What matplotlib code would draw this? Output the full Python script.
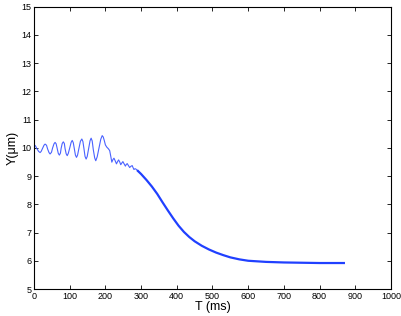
import matplotlib
matplotlib.use('Agg')
import matplotlib.pyplot as plt

# oscillating part (several points per cycle)
t_osc = [0, 4, 8, 13, 17, 20, 24, 28, 31, 35, 38, 42, 45, 49, 52, 56, 59, 62, 65,
         68, 71, 74, 76, 79, 82, 85, 87, 90, 93, 96, 100, 104, 107, 110, 113, 116,
         119, 122, 126, 130, 134, 137, 140, 143, 146, 149, 153, 157, 160, 163, 166,
         170, 173, 177, 182, 187, 191, 194, 197, 200, 204, 208, 212, 215, 218, 221,
         224, 227, 231, 234, 237, 240, 243, 246, 249, 252, 256, 258, 261, 264, 268,
         271, 275, 277, 280, 283, 286, 291]
y_osc = [10.10, 10.07, 9.97, 9.87, 9.83, 9.87, 9.98, 10.09, 10.13, 10.09, 9.96,
         9.83, 9.78, 9.84, 9.99, 10.14, 10.19, 10.14, 9.97, 9.80, 9.74, 9.81, 9.98,
         10.15, 10.21, 10.15, 9.97, 9.79, 9.72, 9.80, 9.99, 10.19, 10.26, 10.18,
         9.96, 9.74, 9.66, 9.74, 9.99, 10.23, 10.31, 10.22, 9.96, 9.69, 9.60, 9.69,
         9.97, 10.25, 10.34, 10.24, 9.94, 9.64, 9.54, 9.68, 9.99, 10.30, 10.43,
         10.38, 10.25, 10.10, 10.02, 9.97, 9.90, 9.70, 9.49, 9.58, 9.63, 9.55, 9.43,
         9.51, 9.57, 9.50, 9.40, 9.46, 9.51, 9.44, 9.35, 9.40, 9.44, 9.38, 9.30,
         9.34, 9.37, 9.31, 9.23, 9.26, 9.24, 9.18]

# smooth decay
t_dec = [291, 300, 315, 330, 345, 360, 375, 390, 405, 420, 435, 450, 470, 490,
         510, 530, 550, 575, 600, 650, 700, 750, 800, 868]
y_dec = [9.18, 9.07, 8.86, 8.63, 8.37, 8.07, 7.78, 7.50, 7.24, 7.02, 6.84, 6.69,
         6.53, 6.40, 6.29, 6.20, 6.12, 6.05, 6.00, 5.96, 5.94, 5.93, 5.92, 5.92]

plt.rcParams['font.family'] = ['Liberation Sans', 'DejaVu Sans']

fig = plt.figure(figsize=(4.02, 3.16), dpi=100)
ax = fig.add_axes([0.0846, 0.0854, 0.888, 0.894])

ax.plot(t_osc, y_osc, color='#4a62ff', linewidth=0.8)
ax.plot(t_dec, y_dec, color='#2040ff', linewidth=1.6)

ax.set_xlim(0, 1000)
ax.set_ylim(5, 15)
ax.set_xticks(range(0, 1001, 100))
ax.set_yticks(range(5, 16))
ax.tick_params(direction='in', length=3, width=0.6, labelsize=6.5, pad=2,
               top=True, right=True)
for s in ax.spines.values():
    s.set_linewidth(0.8)

ax.set_xlabel('T (ms)', fontsize=9, labelpad=0)
ax.set_ylabel('Y(μm)', fontsize=9, labelpad=2)

fig.savefig('out.png', dpi=100)
